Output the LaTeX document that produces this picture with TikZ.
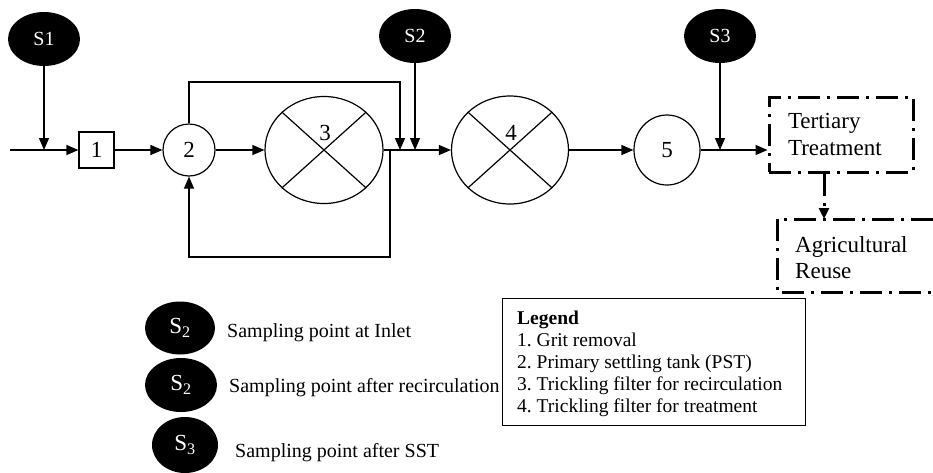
\documentclass[tikz,border=0pt]{standalone}
\usepackage{fontspec}
\setmainfont{Liberation Serif}
\usetikzlibrary{shapes.geometric,arrows.meta}
\frenchspacing
\tikzset{
  ln/.style={line width=1.2pt},
  arr/.style={ln, -{Triangle[length=12pt,width=10pt]}},
  samp/.style={ellipse, fill=black, text=white, minimum width=72pt, minimum height=54pt, inner sep=0pt, font=\fontsize{20}{22}\selectfont},
  keysamp/.style={samp, font=\fontsize{23}{24}\selectfont},
  unit/.style={draw, line width=1.2pt, inner sep=0pt, font=\fontsize{23}{24}\selectfont},
  dd/.style={line width=3pt, dash pattern=on 22pt off 7pt on 3pt off 7pt},
  keytext/.style={anchor=base west, inner sep=0pt, font=\fontsize{20}{22}\selectfont},
}
\begin{document}
\begin{tikzpicture}[x=1pt,y=-1pt]
\useasboundingbox (0,0) rectangle (933,472);
% sampling points
\node[samp] (s1) at (44,39) {S1};
\node[samp] (s2) at (415,36) {S2};
\node[samp] (s3) at (720,36) {S3};
% units
\node[unit, rectangle, minimum width=35pt, minimum height=36pt] (b1) at (96.5,150) {1};
\node[unit, circle, minimum size=52pt] (c2) at (189,150) {2};
\node[unit, ellipse, minimum width=118pt, minimum height=107pt] (e3) at (324,150) {};
\node[unit, ellipse, minimum width=117pt, minimum height=108pt] (e4) at (510,150) {};
\node[unit, ellipse, minimum width=66pt, minimum height=70pt] (c5) at (667,150) {5};
\draw[ln] (e3.138) -- (e3.318);
\draw[ln] (e3.42) -- (e3.222);
\draw[ln] (e4.138) -- (e4.318);
\draw[ln] (e4.42) -- (e4.222);
\node[font=\fontsize{23}{24}\selectfont, inner sep=0pt] (l3) at (325,133) {3};
\node[font=\fontsize{23}{24}\selectfont, inner sep=0pt] (l4) at (511,133) {4};
% tertiary and reuse
\node[draw, dd, minimum width=144pt, minimum height=75pt, text width=106pt, inner xsep=19pt, align=left, font=\fontsize{23}{27}\selectfont] (tt) at (841,134.5) {Tertiary\\Treatment};
\coordinate (ag1) at (933,219);
\coordinate (ag2) at (777,219);
\coordinate (ag3) at (777,292);
\coordinate (ag4) at (933,292);
\draw[dd] (ag1) -- (ag2) -- (ag3) -- (ag4);
\node[anchor=north west, inner sep=0pt, align=left, font=\fontsize{23}{26}\selectfont] (agt) at (795,236) {Agricultural\\Reuse};
\coordinate (agin) at (824,219);
\draw[dd, -{Triangle[length=11pt,width=10pt]}] (tt.south -| agin) -- (agin);
% main flow
\coordinate (in) at (10,150);
\draw[arr] (in) -- (b1.west);
\draw[arr] (s1.south) -- (s1.south |- in);
\draw[arr] (b1.east) -- (c2.west);
\draw[arr] (c2.east) -- (e3.west);
\coordinate (rt) at (400,82);
\coordinate (m1) at (400,150);
\draw[arr] (c2.north) |- (rt) -- (m1);
\draw[arr] (s2.south) -- (s2.south |- m1);
\draw[arr] (e3.east) -- (e4.west);
\coordinate (j) at (390,150);
\coordinate (rb) at (390,257);
\draw[arr] (j) -- (rb) -| (c2.south);
\draw[arr] (e4.east) -- (c5.west);
\draw[arr] (c5.east) -- (tt.west |- c5.east);
\draw[arr] (s3.south) -- (s3.south |- c5.east);
% legend box
\node[draw, line width=1.2pt, anchor=north west, minimum width=303pt, minimum height=127pt, inner sep=0pt] (leg) at (502,298) {};
\node[anchor=north west, inner sep=0pt, align=left, font=\fontsize{19.5}{22}\selectfont] (legt) at (517,310.5) {\textbf{Legend}\\1. Grit removal\\2. Primary settling tank (PST)\\3. Trickling filter for recirculation\\4. Trickling filter for treatment};
% key
\node[keysamp, minimum width=70pt, minimum height=53pt] (k1) at (180,328) {S\textsubscript{2}};
\node[keysamp] (k2) at (181,385) {S\textsubscript{2}};
\node[keysamp, minimum width=66pt, minimum height=56pt] (k3) at (185,445) {S\textsubscript{3}};
\node[keytext] (k1t) at (227,337) {Sampling point at Inlet};
\node[keytext] (k2t) at (229,392) {Sampling point after recirculation};
\node[keytext] (k3t) at (235,457) {Sampling point after SST};
\end{tikzpicture}
\end{document}
